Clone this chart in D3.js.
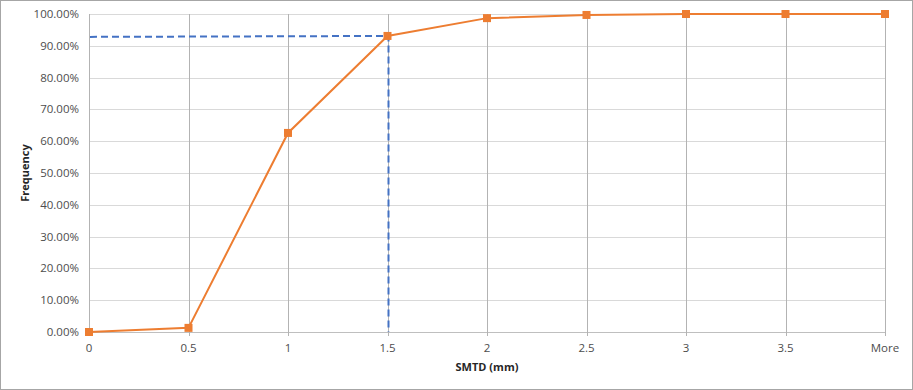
<!DOCTYPE html>
<html>
<head>
<meta charset="utf-8">
<script src="https://cdn.jsdelivr.net/npm/d3@7"></script>
<style>
  body { margin: 0; background: #fff; }
  text { font-family: "Open Sans", "Liberation Sans", sans-serif; }
</style>
</head>
<body>
<svg id="chart"></svg>
<script>
// categories on the x axis (histogram bins)
const bins = ['0', '0.5', '1', '1.5', '2', '2.5', '3', '3.5', 'More'];
// cumulative frequency, in %
const cumFreq = [0, 1.3, 62.6, 93.1, 98.7, 99.7, 100, 100, 100];
// the dashed guide: from the y axis across to the 1.5 bin, then down to the axis
const guideBins = ['0', '1.5', '1.5'];
const guideVals = [92.8, 93.1, 0];
const yTicks = [0, 10, 20, 30, 40, 50, 60, 70, 80, 90, 100];

const width = 913, height = 390;
const margin = { top: 14, right: 28, bottom: 58, left: 89 };

const svg = d3.select('#chart')
  .attr('width', width)
  .attr('height', height);

// outer frame
svg.append('rect')
  .attr('x', 0.5).attr('y', 0.5)
  .attr('width', width - 1).attr('height', height - 1)
  .attr('fill', '#fff')
  .attr('stroke', '#a6a6a6');

const x = d3.scalePoint()
  .domain(bins)
  .range([margin.left, width - margin.right]);

const y = d3.scaleLinear()
  .domain([0, 100])
  .range([height - margin.bottom, margin.top]);

//HORIZONTAL GRID
svg.append('g')
  .selectAll('line')
  .data(yTicks)
  .join('line')
  .attr('x1', margin.left)
  .attr('x2', width - margin.right)
  .attr('y1', d => Math.round(y(d)) + 0.5)
  .attr('y2', d => Math.round(y(d)) + 0.5)
  .attr('stroke', d => d === 0 ? '#bfbfbf' : '#d9d9d9')
  .attr('stroke-width', 1);

//VERTICAL GRID (with tick marks below the axis)
svg.append('g')
  .selectAll('line')
  .data(bins)
  .join('line')
  .attr('x1', d => Math.round(x(d)) + 0.5)
  .attr('x2', d => Math.round(x(d)) + 0.5)
  .attr('y1', y(100))
  .attr('y2', y(0) + 4)
  .attr('stroke', '#b3b3b3')
  .attr('stroke-width', 1);

//Y LABELS
svg.append('g')
  .selectAll('text')
  .data(yTicks)
  .join('text')
  .attr('x', margin.left - 10)
  .attr('y', d => y(d))
  .attr('dy', '0.35em')
  .attr('text-anchor', 'end')
  .attr('font-size', 11.5)
  .attr('fill', '#4d4d4d')
  .text(d => d.toFixed(2) + '%');

//X LABELS
svg.append('g')
  .selectAll('text')
  .data(bins)
  .join('text')
  .attr('x', d => x(d))
  .attr('y', y(0) + 20)
  .attr('text-anchor', 'middle')
  .attr('font-size', 11.5)
  .attr('fill', '#4d4d4d')
  .text(d => d);

//AXIS TITLES
svg.append('text')
  .attr('x', (margin.left + width - margin.right) / 2)
  .attr('y', 371)
  .attr('text-anchor', 'middle')
  .attr('font-size', 11)
  .attr('font-weight', 'bold')
  .attr('fill', '#262626')
  .text('SMTD (mm)');

svg.append('text')
  .attr('transform', `translate(29,${(y(0) + y(100)) / 2}) rotate(-90)`)
  .attr('text-anchor', 'middle')
  .attr('font-size', 11)
  .attr('font-weight', 'bold')
  .attr('fill', '#262626')
  .text('Frequency');

//DASHED GUIDE (drawn a hair right of the grid line, as in the original)
const guide = guideBins.map((b, i) => [b, guideVals[i]]);
svg.append('path')
  .datum(guide)
  .attr('transform', 'translate(1,0)')
  .attr('fill', 'none')
  .attr('stroke', '#4472c4')
  .attr('stroke-width', 2)
  .attr('stroke-dasharray', '7,4')
  .attr('d', d3.line().x(d => x(d[0])).y(d => y(d[1])));

//CUMULATIVE LINE
const pts = bins.map((b, i) => [b, cumFreq[i]]);
svg.append('path')
  .datum(pts)
  .attr('fill', 'none')
  .attr('stroke', '#ed7d31')
  .attr('stroke-width', 2)
  .attr('d', d3.line().x(d => x(d[0])).y(d => y(d[1])));

svg.append('g')
  .selectAll('rect')
  .data(pts)
  .join('rect')
  .attr('x', d => x(d[0]) - 4)
  .attr('y', d => y(d[1]) - 4)
  .attr('width', 8)
  .attr('height', 8)
  .attr('fill', '#ed7d31');
</script>
</body>
</html>
